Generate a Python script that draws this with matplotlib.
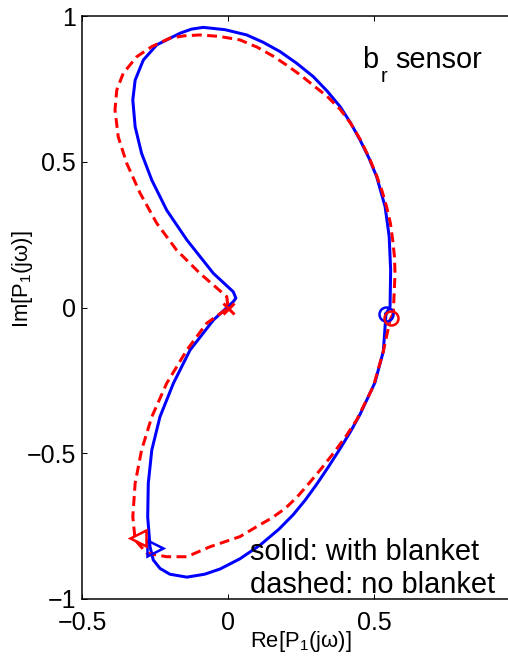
import matplotlib
matplotlib.use("Agg")
import matplotlib.pyplot as plt

plt.rcParams['font.family'] = ['Liberation Sans', 'DejaVu Sans']
plt.rcParams['mathtext.default'] = 'regular'

# Solid (with blanket): Re, Im
blue_re = [0.541, 0.555, 0.557, 0.552, 0.538, 0.509, 0.483, 0.452, 0.420, 0.384,
           0.340, 0.292, 0.235, 0.178, 0.120, 0.064, -0.010, -0.085, -0.125, -0.164,
           -0.244, -0.290, -0.318, -0.326, -0.318, -0.296, -0.261, -0.210, -0.141, -0.050,
           0.018, 0.027, 0.018, -0.050, -0.130, -0.187, -0.233, -0.261, -0.273, -0.275,
           -0.267, -0.256, -0.233, -0.199, -0.141, -0.080, -0.027, 0.041, 0.110, 0.175,
           0.224, 0.265, 0.304, 0.345, 0.384, 0.420, 0.452, 0.503, 0.532, 0.541]
blue_im = [-0.022, 0.003, 0.129, 0.243, 0.346, 0.449, 0.512, 0.575, 0.633, 0.689,
           0.742, 0.792, 0.838, 0.878, 0.910, 0.935, 0.953, 0.961, 0.955, 0.941,
           0.901, 0.849, 0.780, 0.712, 0.620, 0.529, 0.437, 0.334, 0.232, 0.117,
           0.054, 0.032, 0.020, -0.043, -0.146, -0.260, -0.375, -0.489, -0.603, -0.718,
           -0.821, -0.866, -0.895, -0.915, -0.925, -0.915, -0.897, -0.862, -0.815, -0.760,
           -0.710, -0.660, -0.606, -0.545, -0.484, -0.425, -0.367, -0.258, -0.150, -0.022]

# Dashed (no blanket): Re, Im
red_re = [0.558, 0.566, 0.572, 0.570, 0.564, 0.556, 0.543, 0.528, 0.509, 0.483,
          0.452, 0.420, 0.384, 0.340, 0.292, 0.250, 0.200, 0.155, 0.100, 0.041,
          -0.030, -0.096, -0.150, -0.199, -0.261, -0.313, -0.359, -0.381, -0.387, -0.376,
          -0.347, -0.301, -0.244, -0.176, -0.096, -0.004, 0.000, -0.073, -0.141, -0.210,
          -0.261, -0.296, -0.318, -0.326, -0.318, -0.278, -0.210, -0.141, -0.062, 0.041,
          0.098, 0.150, 0.195, 0.235, 0.275, 0.320, 0.361, 0.405, 0.441, 0.498,
          0.532, 0.555, 0.558]
red_im = [-0.036, -0.020, 0.117, 0.175, 0.232, 0.290, 0.346, 0.398, 0.452, 0.515,
          0.578, 0.632, 0.680, 0.724, 0.762, 0.796, 0.832, 0.862, 0.893, 0.918,
          0.930, 0.935, 0.932, 0.924, 0.895, 0.860, 0.803, 0.746, 0.678, 0.586,
          0.495, 0.392, 0.289, 0.197, 0.117, 0.037, -0.002, -0.054, -0.146, -0.260,
          -0.375, -0.489, -0.603, -0.718, -0.798, -0.843, -0.855, -0.855, -0.821, -0.786,
          -0.752, -0.722, -0.690, -0.652, -0.606, -0.552, -0.500, -0.440, -0.385, -0.270,
          -0.150, -0.043, -0.036]

# Marker points
blue_circle = (0.541, -0.022)
red_circle = (0.558, -0.036)
red_cross = (0.0, -0.002)
blue_tri = (-0.250, -0.826)
red_tri = (-0.307, -0.792)

x_ticks = [-0.5, 0, 0.5, 1]
x_ticklabels = ['\u22120.5', '0', '0.5', '']
y_ticks = [-1, -0.5, 0, 0.5, 1]
y_ticklabels = ['\u22121', '\u22120.5', '0', '0.5', '1']

W, H = 508, 657
fig = plt.figure(figsize=(W / 72, H / 72), dpi=72)
ax = fig.add_axes([82 / W, (H - 599) / H, (520 - 82) / W, (599 - 16) / H])

lw = 3
ax.plot(blue_re, blue_im, color='#0000ff', lw=lw, solid_joinstyle='round')
ax.plot(red_re, red_im, color='#ff0000', lw=lw, ls=(0, (3.3, 1.8)))

ax.plot(*blue_circle, marker='o', ms=14, mfc='none', mec='#0000ff', mew=2.5)
ax.plot(*red_circle, marker='o', ms=14, mfc='none', mec='#ff0000', mew=2.5)
ax.plot(*red_cross, marker='x', ms=11, mec='#ff0000', mew=3)
ax.plot(*blue_tri, marker='>', ms=16, mfc='none', mec='#0000ff', mew=2.5)
ax.plot(*red_tri, marker='<', ms=16, mfc='none', mec='#ff0000', mew=2.5)

ax.set_xlim(-0.5, 1)
ax.set_ylim(-1, 1)
ax.set_xticks(x_ticks)
ax.set_xticklabels(x_ticklabels)
ax.set_yticks(y_ticks)
ax.set_yticklabels(y_ticklabels)
ax.tick_params(direction='in', length=5, width=1, labelsize=25, top=True, right=True, pad=6)
ax.tick_params(axis='x', pad=12)
for s in ax.spines.values():
    s.set_linewidth(1.5)

ax.set_xlabel('Re[P$_1$(j\u03c9)]', fontsize=22)
ax.xaxis.set_label_coords(0.5, -0.052)
ax.set_ylabel('Im[P$_1$(j\u03c9)]', fontsize=22)
ax.yaxis.set_label_coords(-0.107, 0.549)

ax.text(0.459, 0.822, 'b', fontsize=29, ha='left', va='baseline')
ax.text(0.521, 0.774, 'r', fontsize=20, ha='left', va='baseline')
ax.text(0.572, 0.822, 'sensor', fontsize=29, ha='left', va='baseline')
ax.text(0.075, -0.866, 'solid: with blanket', fontsize=29, ha='left', va='baseline')
ax.text(0.075, -0.978, 'dashed: no blanket', fontsize=29, ha='left', va='baseline')

fig.savefig('out.png', dpi=72)
